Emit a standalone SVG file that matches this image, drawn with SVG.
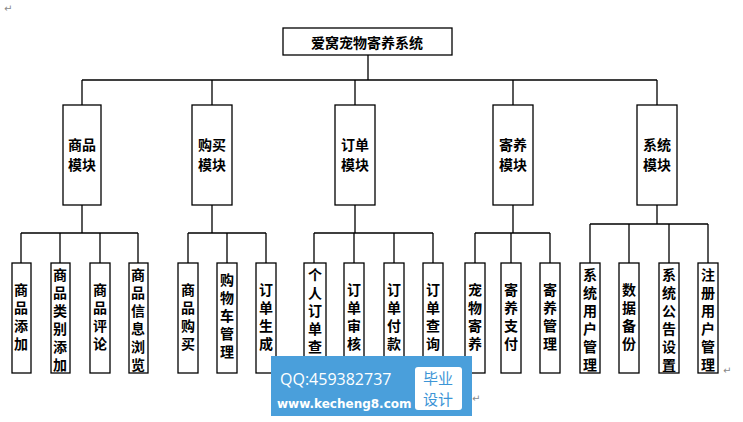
<svg xmlns="http://www.w3.org/2000/svg" width="743" height="422" viewBox="0 0 743 422">
<style>
.b{fill:#fff;stroke:#000;stroke-width:1.3}
.t{font-family:"Noto Sans CJK SC",sans-serif;font-size:14px;font-weight:bold;text-anchor:middle;fill:#000}
.c{fill:none;stroke:#000;stroke-width:1.3}
.r{font-family:"DejaVu Sans",sans-serif;font-size:10px;fill:#888}
</style>
<rect width="743" height="422" fill="#fff"/>
<g id="connectors">
<path class="c" d="M368 55V80M82 80H657M82 80V105M212 80V105M355 80V105M513 80V105M657 80V105"/>
<path class="c" d="M82 205V233M21 233H138M21 233V263M60 233V263M100 233V263M138 233V263"/>
<path class="c" d="M212 205V233M188 233H266M188 233V263M227 233V263M266 233V263"/>
<path class="c" d="M355 205V233M314 233H433M314 233V263M354 233V263M394 233V263M433 233V263"/>
<path class="c" d="M513 205V233M475 233H550M475 233V263M511 233V263M550 233V263"/>
<path class="c" d="M657 205V224M590 224H708M590 224V263M629 224V263M669 224V263M708 224V263"/>
</g>
<g id="root"><rect class="b" x="283" y="28" width="169" height="27"/><text x="367" y="48" class="t" font-weight="normal" font-size="16">爱窝宠物寄养系统</text></g>
<g id="m1"><rect class="b" x="63" y="105" width="38" height="100"/><text class="t" x="82" y="150">商品</text><text class="t" x="82" y="170">模块</text></g>
<g id="m2"><rect class="b" x="192" y="105" width="40" height="100"/><text class="t" x="212" y="150">购买</text><text class="t" x="212" y="170">模块</text></g>
<g id="m3"><rect class="b" x="335" y="105" width="40" height="100"/><text class="t" x="355" y="150">订单</text><text class="t" x="355" y="170">模块</text></g>
<g id="m4"><rect class="b" x="493" y="105" width="40" height="100"/><text class="t" x="513" y="150">寄养</text><text class="t" x="513" y="170">模块</text></g>
<g id="m5"><rect class="b" x="637" y="105" width="40" height="100"/><text class="t" x="657" y="150">系统</text><text class="t" x="657" y="170">模块</text></g>
<g id="l1"><rect class="b" x="12" y="263" width="19" height="110"/><text class="t" x="21"><tspan x="21" y="295">商</tspan><tspan x="21" dy="18">品</tspan><tspan x="21" dy="18">添</tspan><tspan x="21" dy="18">加</tspan></text></g>
<g id="l2"><rect class="b" x="51" y="263" width="19" height="110"/><text class="t"><tspan x="60" y="280">商</tspan><tspan x="60" dy="18">品</tspan><tspan x="60" dy="18">类</tspan><tspan x="60" dy="18">别</tspan><tspan x="60" dy="18">添</tspan><tspan x="60" dy="18">加</tspan></text></g>
<g id="l3"><rect class="b" x="90" y="263" width="20" height="110"/><text class="t"><tspan x="100" y="295">商</tspan><tspan x="100" dy="18">品</tspan><tspan x="100" dy="18">评</tspan><tspan x="100" dy="18">论</tspan></text></g>
<g id="l4"><rect class="b" x="129" y="263" width="19" height="110"/><text class="t"><tspan x="138" y="280">商</tspan><tspan x="138" dy="18">品</tspan><tspan x="138" dy="18">信</tspan><tspan x="138" dy="18">息</tspan><tspan x="138" dy="18">浏</tspan><tspan x="138" dy="18">览</tspan></text></g>
<g id="l5"><rect class="b" x="178" y="263" width="20" height="110"/><text class="t"><tspan x="188" y="295">商</tspan><tspan x="188" dy="18">品</tspan><tspan x="188" dy="18">购</tspan><tspan x="188" dy="18">买</tspan></text></g>
<g id="l6"><rect class="b" x="217" y="263" width="20" height="110"/><text class="t"><tspan x="227" y="285">购</tspan><tspan x="227" dy="18">物</tspan><tspan x="227" dy="18">车</tspan><tspan x="227" dy="18">管</tspan><tspan x="227" dy="18">理</tspan></text></g>
<g id="l7"><rect class="b" x="256" y="263" width="20" height="110"/><text class="t"><tspan x="266" y="295">订</tspan><tspan x="266" dy="18">单</tspan><tspan x="266" dy="18">生</tspan><tspan x="266" dy="18">成</tspan></text></g>
<g id="l8"><rect class="b" x="304" y="263" width="22" height="110"/><text class="t"><tspan x="315" y="280">个</tspan><tspan x="315" dy="18">人</tspan><tspan x="315" dy="18">订</tspan><tspan x="315" dy="18">单</tspan><tspan x="315" dy="18">查</tspan><tspan x="315" dy="18">询</tspan></text></g>
<g id="l9"><rect class="b" x="344" y="263" width="20" height="110"/><text class="t"><tspan x="354" y="295">订</tspan><tspan x="354" dy="18">单</tspan><tspan x="354" dy="18">审</tspan><tspan x="354" dy="18">核</tspan></text></g>
<g id="l10"><rect class="b" x="384" y="263" width="20" height="110"/><text class="t"><tspan x="394" y="295">订</tspan><tspan x="394" dy="18">单</tspan><tspan x="394" dy="18">付</tspan><tspan x="394" dy="18">款</tspan></text></g>
<g id="l11"><rect class="b" x="423" y="263" width="20" height="110"/><text class="t"><tspan x="433" y="295">订</tspan><tspan x="433" dy="18">单</tspan><tspan x="433" dy="18">查</tspan><tspan x="433" dy="18">询</tspan></text></g>
<g id="l12"><rect class="b" x="465" y="263" width="20" height="110"/><text class="t"><tspan x="475" y="295">宠</tspan><tspan x="475" dy="18">物</tspan><tspan x="475" dy="18">寄</tspan><tspan x="475" dy="18">养</tspan></text></g>
<g id="l13"><rect class="b" x="501" y="263" width="20" height="110"/><text class="t"><tspan x="511" y="295">寄</tspan><tspan x="511" dy="18">养</tspan><tspan x="511" dy="18">支</tspan><tspan x="511" dy="18">付</tspan></text></g>
<g id="l14"><rect class="b" x="540" y="263" width="20" height="110"/><text class="t"><tspan x="550" y="295">寄</tspan><tspan x="550" dy="18">养</tspan><tspan x="550" dy="18">管</tspan><tspan x="550" dy="18">理</tspan></text></g>
<g id="l15"><rect class="b" x="580" y="263" width="20" height="110"/><text class="t"><tspan x="590" y="280">系</tspan><tspan x="590" dy="18">统</tspan><tspan x="590" dy="18">用</tspan><tspan x="590" dy="18">户</tspan><tspan x="590" dy="18">管</tspan><tspan x="590" dy="18">理</tspan></text></g>
<g id="l16"><rect class="b" x="619" y="263" width="20" height="110"/><text class="t"><tspan x="629" y="295">数</tspan><tspan x="629" dy="18">据</tspan><tspan x="629" dy="18">备</tspan><tspan x="629" dy="18">份</tspan></text></g>
<g id="l17"><rect class="b" x="659" y="263" width="20" height="110"/><text class="t"><tspan x="669" y="280">系</tspan><tspan x="669" dy="18">统</tspan><tspan x="669" dy="18">公</tspan><tspan x="669" dy="18">告</tspan><tspan x="669" dy="18">设</tspan><tspan x="669" dy="18">置</tspan></text></g>
<g id="l18"><rect class="b" x="698" y="263" width="20" height="110"/><text class="t"><tspan x="708" y="280">注</tspan><tspan x="708" dy="18">册</tspan><tspan x="708" dy="18">用</tspan><tspan x="708" dy="18">户</tspan><tspan x="708" dy="18">管</tspan><tspan x="708" dy="18">理</tspan></text></g>
<text class="r" x="4" y="12">↵</text>
<text class="r" x="723" y="374">↵</text>
<text class="r" x="472" y="402">↵</text>
<g id="watermark">
<rect x="271" y="356" width="201" height="60" fill="#4a9fdb"/>
<rect x="415" y="367" width="47" height="43" rx="3" fill="#fff"/>
<text x="280" y="385" font-family="'Open Sans',sans-serif" font-size="16" fill="#fff">QQ:459382737</text>
<text x="277" y="408" font-family="'DejaVu Sans',sans-serif" font-size="12" font-weight="bold" fill="#fff">www.kecheng8.com</text>
<text x="438" y="384" font-family="'Noto Sans CJK SC',sans-serif" font-size="15" text-anchor="middle" fill="#3d95d6">毕业</text>
<text x="438" y="405" font-family="'Noto Sans CJK SC',sans-serif" font-size="15" text-anchor="middle" fill="#3d95d6">设计</text>
</g>
</svg>
